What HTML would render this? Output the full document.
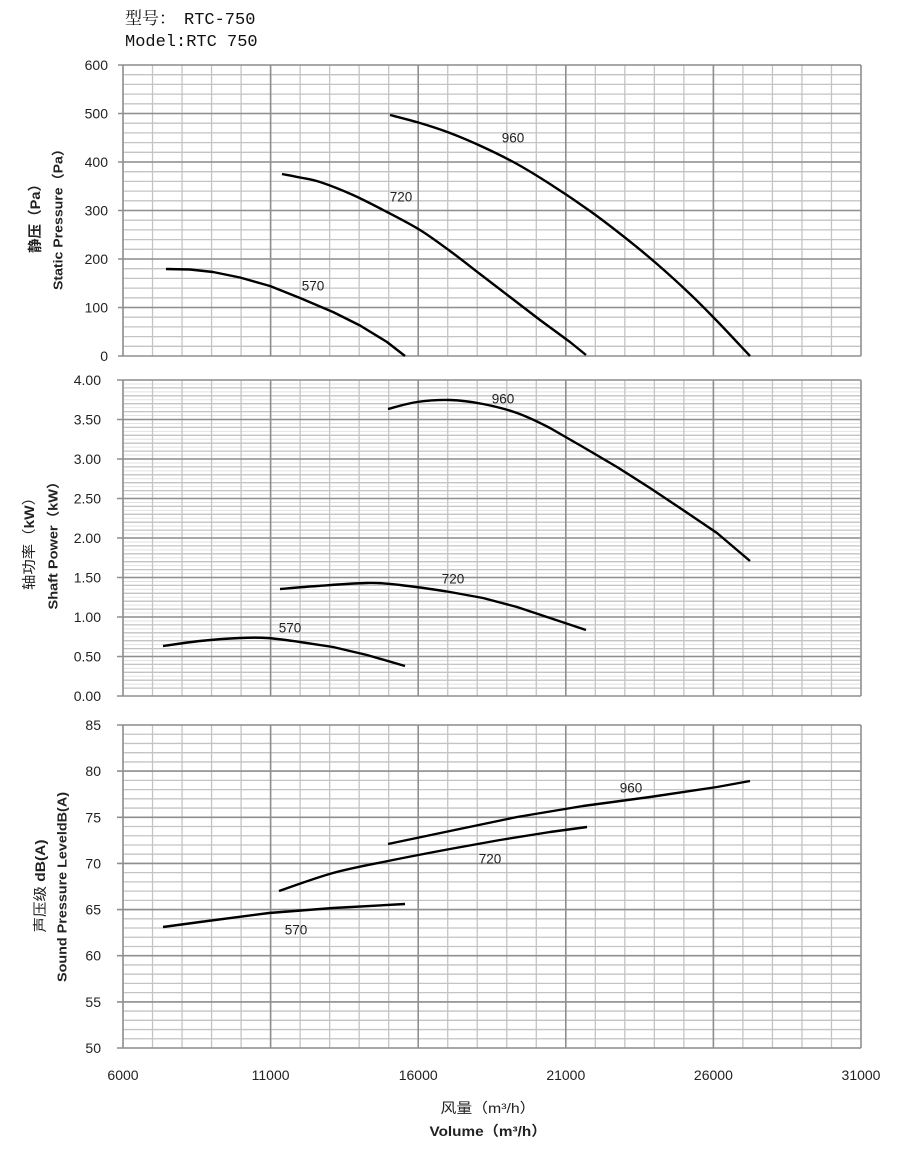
<!DOCTYPE html>
<html>
<head>
<meta charset="utf-8">
<style>
html,body{margin:0;padding:0;background:#fff;}
svg{display:block;}
text{font-family:"Liberation Sans","Noto Sans CJK SC",sans-serif;fill:#222;}
.t{font-family:"Liberation Mono","Noto Serif CJK SC",monospace;font-size:17px;fill:#111;}
.tick{font-size:14px;}
.lab{font-size:13.5px;}
.ax{font-size:13px;font-weight:bold;}
.axc{font-size:14px;}
</style>
</head>
<body>
<svg width="906" height="1155" viewBox="0 0 906 1155" xmlns="http://www.w3.org/2000/svg">
<defs>
<clipPath id="cTop"><rect x="122" y="64" width="740" height="293"/></clipPath>
<clipPath id="cMid"><rect x="122" y="379" width="740" height="318"/></clipPath>
<clipPath id="cBot"><rect x="122" y="724" width="740" height="325"/></clipPath>
</defs>
<rect width="906" height="1155" fill="#fff"/>

<!-- Title -->
<text class="t" x="125" y="24">型号：</text>
<text class="t" x="184" y="24">RTC-750</text>
<text class="t" x="125" y="46">Model:RTC 750</text>

<!-- ============ TOP PANEL grid ============ -->
<g fill="none">
<g clip-path="url(#cTop)">
<path stroke="#c4c4c4" stroke-width="1.3" d="M123,65h738m-738,9.7h738m-738,9.7h738m-738,9.7h738m-738,9.7h738m-738,9.7h738m-738,9.7h738m-738,9.7h738m-738,9.7h738m-738,9.7h738m-738,9.7h738m-738,9.7h738m-738,9.7h738m-738,9.7h738m-738,9.7h738m-738,9.7h738m-738,9.7h738m-738,9.7h738m-738,9.7h738m-738,9.7h738m-738,9.7h738m-738,9.7h738m-738,9.7h738m-738,9.7h738m-738,9.7h738m-738,9.7h738m-738,9.7h738m-738,9.7h738m-738,9.7h738m-738,9.7h738"/>
<path stroke="#c4c4c4" stroke-width="1.3" d="M123,65v291m29.52,-291v291m29.52,-291v291m29.52,-291v291m29.52,-291v291m29.52,-291v291m29.52,-291v291m29.52,-291v291m29.52,-291v291m29.52,-291v291m29.52,-291v291m29.52,-291v291m29.52,-291v291m29.52,-291v291m29.52,-291v291m29.52,-291v291m29.52,-291v291m29.52,-291v291m29.52,-291v291m29.52,-291v291m29.52,-291v291m29.52,-291v291m29.52,-291v291m29.52,-291v291m29.52,-291v291"/>
</g>
<path stroke="#8f8f8f" stroke-width="1.6" d="M118,65H861M118,113.5H861M118,162H861M118,210.5H861M118,259H861M118,307.5H861M118,356H861M123,65V356M270.6,65V356M418.2,65V356M565.8,65V356M713.4,65V356M861,65V356"/>
</g>

<!-- ============ MIDDLE PANEL grid ============ -->
<g fill="none">
<g clip-path="url(#cMid)">
<path stroke="#e2e2e2" stroke-width="1" d="M123,380h738m-738,3.95h738m-738,3.95h738m-738,3.95h738m-738,3.95h738m-738,3.95h738m-738,3.95h738m-738,3.95h738m-738,3.95h738m-738,3.95h738m-738,3.95h738m-738,3.95h738m-738,3.95h738m-738,3.95h738m-738,3.95h738m-738,3.95h738m-738,3.95h738m-738,3.95h738m-738,3.95h738m-738,3.95h738m-738,3.95h738m-738,3.95h738m-738,3.95h738m-738,3.95h738m-738,3.95h738m-738,3.95h738m-738,3.95h738m-738,3.95h738m-738,3.95h738m-738,3.95h738m-738,3.95h738m-738,3.95h738m-738,3.95h738m-738,3.95h738m-738,3.95h738m-738,3.95h738m-738,3.95h738m-738,3.95h738m-738,3.95h738m-738,3.95h738m-738,3.95h738m-738,3.95h738m-738,3.95h738m-738,3.95h738m-738,3.95h738m-738,3.95h738m-738,3.95h738m-738,3.95h738m-738,3.95h738m-738,3.95h738m-738,3.95h738m-738,3.95h738m-738,3.95h738m-738,3.95h738m-738,3.95h738m-738,3.95h738m-738,3.95h738m-738,3.95h738m-738,3.95h738m-738,3.95h738m-738,3.95h738m-738,3.95h738m-738,3.95h738m-738,3.95h738m-738,3.95h738m-738,3.95h738m-738,3.95h738m-738,3.95h738m-738,3.95h738m-738,3.95h738m-738,3.95h738m-738,3.95h738m-738,3.95h738m-738,3.95h738m-738,3.95h738m-738,3.95h738m-738,3.95h738m-738,3.95h738m-738,3.95h738"/>
<path stroke="#c4c4c4" stroke-width="1.3" d="M123,380h738m-738,7.9h738m-738,7.9h738m-738,7.9h738m-738,7.9h738m-738,7.9h738m-738,7.9h738m-738,7.9h738m-738,7.9h738m-738,7.9h738m-738,7.9h738m-738,7.9h738m-738,7.9h738m-738,7.9h738m-738,7.9h738m-738,7.9h738m-738,7.9h738m-738,7.9h738m-738,7.9h738m-738,7.9h738m-738,7.9h738m-738,7.9h738m-738,7.9h738m-738,7.9h738m-738,7.9h738m-738,7.9h738m-738,7.9h738m-738,7.9h738m-738,7.9h738m-738,7.9h738m-738,7.9h738m-738,7.9h738m-738,7.9h738m-738,7.9h738m-738,7.9h738m-738,7.9h738m-738,7.9h738m-738,7.9h738m-738,7.9h738m-738,7.9h738"/>
<path stroke="#c4c4c4" stroke-width="1.3" d="M123,380v316m29.52,-316v316m29.52,-316v316m29.52,-316v316m29.52,-316v316m29.52,-316v316m29.52,-316v316m29.52,-316v316m29.52,-316v316m29.52,-316v316m29.52,-316v316m29.52,-316v316m29.52,-316v316m29.52,-316v316m29.52,-316v316m29.52,-316v316m29.52,-316v316m29.52,-316v316m29.52,-316v316m29.52,-316v316m29.52,-316v316m29.52,-316v316m29.52,-316v316m29.52,-316v316m29.52,-316v316"/>
</g>
<path stroke="#8f8f8f" stroke-width="1.6" d="M117,380H861M117,419.5H861M117,459H861M117,498.5H861M117,538H861M117,577.5H861M117,617H861M117,656.5H861M117,696H861M123,380V696M270.6,380V696M418.2,380V696M565.8,380V696M713.4,380V696M861,380V696"/>
</g>

<!-- ============ BOTTOM PANEL grid ============ -->
<g fill="none">
<g clip-path="url(#cBot)">
<path stroke="#c4c4c4" stroke-width="1.3" d="M123,725h738m-738,9.2286h738m-738,9.2286h738m-738,9.2286h738m-738,9.2286h738m-738,9.2286h738m-738,9.2286h738m-738,9.2286h738m-738,9.2286h738m-738,9.2286h738m-738,9.2286h738m-738,9.2286h738m-738,9.2286h738m-738,9.2286h738m-738,9.2286h738m-738,9.2286h738m-738,9.2286h738m-738,9.2286h738m-738,9.2286h738m-738,9.2286h738m-738,9.2286h738m-738,9.2286h738m-738,9.2286h738m-738,9.2286h738m-738,9.2286h738m-738,9.2286h738m-738,9.2286h738m-738,9.2286h738m-738,9.2286h738m-738,9.2286h738m-738,9.2286h738m-738,9.2286h738m-738,9.2286h738m-738,9.2286h738m-738,9.2286h738m-738,9.2286h738"/>
<path stroke="#c4c4c4" stroke-width="1.3" d="M123,725v323m29.52,-323v323m29.52,-323v323m29.52,-323v323m29.52,-323v323m29.52,-323v323m29.52,-323v323m29.52,-323v323m29.52,-323v323m29.52,-323v323m29.52,-323v323m29.52,-323v323m29.52,-323v323m29.52,-323v323m29.52,-323v323m29.52,-323v323m29.52,-323v323m29.52,-323v323m29.52,-323v323m29.52,-323v323m29.52,-323v323m29.52,-323v323m29.52,-323v323m29.52,-323v323m29.52,-323v323"/>
</g>
<path stroke="#8f8f8f" stroke-width="1.6" d="M117,725H861M117,771.1H861M117,817.3H861M117,863.4H861M117,909.6H861M117,955.7H861M117,1001.9H861M117,1048H861M123,725V1048M270.6,725V1048M418.2,725V1048M565.8,725V1048M713.4,725V1048M861,725V1048"/>
</g>

<!-- ============ CURVES ============ -->
<g fill="none" stroke="#000" stroke-width="2.4" stroke-linejoin="round" stroke-linecap="butt">
<!-- top -->
<polyline points="166,269 190,269.5 213,272 240,277.5 270,286 300,298 333,312 360,325.5 387,342 405,356"/>
<path d="M282,174C285,174.6 293.7,176.2 300,177.5C306.3,178.8 311.2,179.1 320,182C328.8,184.9 341.8,190 353,195C364.2,200 375.8,206.2 387,212C398.2,217.8 409.5,223.5 420,230C430.5,236.5 440,243.7 450,251C460,258.3 470,266.3 480,274L510,297L540,320L570,342L586,355"/>
<path d="M390,115C395,116.3 410,120 420,123C430,126 439.5,129 450,133C460.5,137 471.8,141.8 483,147C494.2,152.2 505.8,157.8 517,164C528.2,170.2 537.8,176.2 550,184C562.2,191.8 577.8,202.3 590,211C602.2,219.7 611.8,227.2 623,236C634.2,244.8 645.8,254.3 657,264C668.2,273.7 680,284.5 690,294C700,303.5 707,310.7 717,321C727,331.3 744.5,350.2 750,356"/>
<!-- middle -->
<path d="M163,646C169.2,645.2 187.2,642.3 200,641C212.8,639.7 228.8,638.5 240,638C251.2,637.5 257,637.3 267,638C277,638.7 289,640.5 300,642L333,647L367,655L405,666"/>
<path d="M280,589C286.2,588.5 302.5,587 317,586C331.5,585 353.2,583.2 367,583C380.8,582.8 386.2,583.5 400,585C413.8,586.5 436.2,589.8 450,592L483,598L517,607L550,618L586,630"/>
<path d="M388,409C392.8,407.8 406.7,403.5 417,402C427.3,400.5 439,399.7 450,400C461,400.3 471.8,401.8 483,404C494.2,406.2 505.8,409 517,413C528.2,417 539,422.3 550,428L583,447L617,467L650,488L683,510L717,533L750,561"/>
<!-- bottom -->
<polyline points="163,927 200,922 269,913 333,908 405,904"/>
<path d="M279,891C288,888 314.8,878 333,873C351.2,868 368.5,865 388,861C407.5,857 431.3,852.5 450,849L500,840L550,832L587,827"/>
<polyline points="388,844 450,831 517,817 583,806 650,797 717,787 750,781"/>
</g>

<!-- series labels -->
<g class="lab" text-anchor="middle" dominant-baseline="central">
<text x="513" y="138">960</text>
<text x="401" y="197">720</text>
<text x="313" y="286">570</text>
<text x="503" y="399">960</text>
<text x="453" y="579">720</text>
<text x="290" y="628">570</text>
<text x="631" y="788">960</text>
<text x="490" y="859">720</text>
<text x="296" y="930">570</text>
</g>

<!-- y tick labels -->
<g class="tick" text-anchor="end" dominant-baseline="central">
<text x="108" y="65">600</text>
<text x="108" y="113.5">500</text>
<text x="108" y="162">400</text>
<text x="108" y="210.5">300</text>
<text x="108" y="259">200</text>
<text x="108" y="307.5">100</text>
<text x="108" y="356">0</text>

<text x="101" y="380">4.00</text>
<text x="101" y="419.5">3.50</text>
<text x="101" y="459">3.00</text>
<text x="101" y="498.5">2.50</text>
<text x="101" y="538">2.00</text>
<text x="101" y="577.5">1.50</text>
<text x="101" y="617">1.00</text>
<text x="101" y="656.5">0.50</text>
<text x="101" y="696">0.00</text>

<text x="101" y="725">85</text>
<text x="101" y="771.1">80</text>
<text x="101" y="817.3">75</text>
<text x="101" y="863.4">70</text>
<text x="101" y="909.6">65</text>
<text x="101" y="955.7">60</text>
<text x="101" y="1001.9">55</text>
<text x="101" y="1048">50</text>
</g>

<!-- x tick labels -->
<g class="tick" text-anchor="middle" dominant-baseline="central">
<text x="123" y="1075">6000</text>
<text x="270.6" y="1075">11000</text>
<text x="418.2" y="1075">16000</text>
<text x="565.8" y="1075">21000</text>
<text x="713.4" y="1075">26000</text>
<text x="861" y="1075">31000</text>
</g>

<!-- y axis titles -->
<g text-anchor="middle" dominant-baseline="central">
<text class="axc" style="font-weight:bold" transform="translate(35,215) rotate(-90)" textLength="76" lengthAdjust="spacingAndGlyphs">静压（Pa）</text>
<text class="ax" transform="translate(58,216) rotate(-90)" textLength="148" lengthAdjust="spacingAndGlyphs">Static Pressure（Pa）</text>

<text class="axc" transform="translate(29,540) rotate(-90)" textLength="100" lengthAdjust="spacingAndGlyphs">轴功率（<tspan font-weight="bold">kW</tspan>）</text>
<text class="ax" transform="translate(53,542) rotate(-90)" textLength="135" lengthAdjust="spacingAndGlyphs">Shaft Power（kW）</text>

<text class="axc" transform="translate(40,886) rotate(-90)" textLength="93" lengthAdjust="spacingAndGlyphs">声压级 <tspan font-weight="bold">dB(A)</tspan></text>
<text class="ax" transform="translate(62,887) rotate(-90)" textLength="190" lengthAdjust="spacingAndGlyphs">Sound Pressure LeveldB(A)</text>
</g>

<!-- x axis title -->
<g text-anchor="middle" dominant-baseline="central">
<text class="axc" x="488" y="1108" textLength="95" lengthAdjust="spacingAndGlyphs">风量（m³/h）</text>
<text class="ax" style="font-size:14px" x="488" y="1131" textLength="117" lengthAdjust="spacingAndGlyphs">Volume（m³/h）</text>
</g>
</svg>
</body>
</html>
